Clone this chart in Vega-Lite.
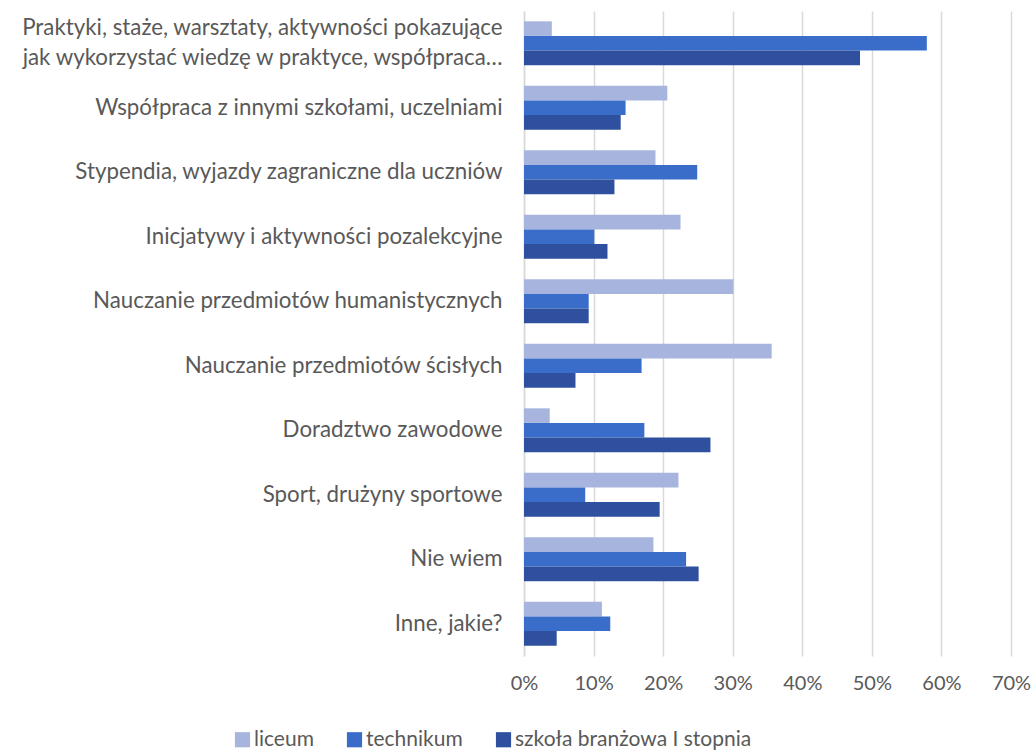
{
  "$schema": "https://vega.github.io/schema/vega-lite/v6.json",
  "width": 487,
  "height": 645,
  "autosize": {"type": "none"},
  "padding": {"left": 524, "top": 11, "right": 24, "bottom": 96},
  "background": "white",
  "config": {
    "view": {"stroke": null},
    "font": "Lato"
  },
  "data": {
    "values": [
      {"cat": "Praktyki, staże, warsztaty, aktywności pokazujące|jak wykorzystać wiedzę w praktyce, współpraca…", "series": "liceum", "value": 0.040},
      {"cat": "Praktyki, staże, warsztaty, aktywności pokazujące|jak wykorzystać wiedzę w praktyce, współpraca…", "series": "technikum", "value": 0.579},
      {"cat": "Praktyki, staże, warsztaty, aktywności pokazujące|jak wykorzystać wiedzę w praktyce, współpraca…", "series": "szkoła branżowa I stopnia", "value": 0.483},
      {"cat": "Współpraca z innymi szkołami, uczelniami", "series": "liceum", "value": 0.206},
      {"cat": "Współpraca z innymi szkołami, uczelniami", "series": "technikum", "value": 0.146},
      {"cat": "Współpraca z innymi szkołami, uczelniami", "series": "szkoła branżowa I stopnia", "value": 0.139},
      {"cat": "Stypendia, wyjazdy zagraniczne dla uczniów", "series": "liceum", "value": 0.189},
      {"cat": "Stypendia, wyjazdy zagraniczne dla uczniów", "series": "technikum", "value": 0.249},
      {"cat": "Stypendia, wyjazdy zagraniczne dla uczniów", "series": "szkoła branżowa I stopnia", "value": 0.130},
      {"cat": "Inicjatywy i aktywności pozalekcyjne", "series": "liceum", "value": 0.225},
      {"cat": "Inicjatywy i aktywności pozalekcyjne", "series": "technikum", "value": 0.101},
      {"cat": "Inicjatywy i aktywności pozalekcyjne", "series": "szkoła branżowa I stopnia", "value": 0.120},
      {"cat": "Nauczanie przedmiotów humanistycznych", "series": "liceum", "value": 0.301},
      {"cat": "Nauczanie przedmiotów humanistycznych", "series": "technikum", "value": 0.093},
      {"cat": "Nauczanie przedmiotów humanistycznych", "series": "szkoła branżowa I stopnia", "value": 0.093},
      {"cat": "Nauczanie przedmiotów ścisłych", "series": "liceum", "value": 0.356},
      {"cat": "Nauczanie przedmiotów ścisłych", "series": "technikum", "value": 0.169},
      {"cat": "Nauczanie przedmiotów ścisłych", "series": "szkoła branżowa I stopnia", "value": 0.074},
      {"cat": "Doradztwo zawodowe", "series": "liceum", "value": 0.037},
      {"cat": "Doradztwo zawodowe", "series": "technikum", "value": 0.173},
      {"cat": "Doradztwo zawodowe", "series": "szkoła branżowa I stopnia", "value": 0.268},
      {"cat": "Sport, drużyny sportowe", "series": "liceum", "value": 0.222},
      {"cat": "Sport, drużyny sportowe", "series": "technikum", "value": 0.088},
      {"cat": "Sport, drużyny sportowe", "series": "szkoła branżowa I stopnia", "value": 0.195},
      {"cat": "Nie wiem", "series": "liceum", "value": 0.186},
      {"cat": "Nie wiem", "series": "technikum", "value": 0.233},
      {"cat": "Nie wiem", "series": "szkoła branżowa I stopnia", "value": 0.251},
      {"cat": "Inne, jakie?", "series": "liceum", "value": 0.112},
      {"cat": "Inne, jakie?", "series": "technikum", "value": 0.124},
      {"cat": "Inne, jakie?", "series": "szkoła branżowa I stopnia", "value": 0.047}
    ]
  },
  "mark": {"type": "bar"},
  "encoding": {
    "y": {
      "field": "cat",
      "type": "nominal",
      "sort": null,
      "scale": {"paddingInner": 0.32, "paddingOuter": 0.16},
      "axis": {
        "title": null,
        "ticks": false,
        "domain": true,
        "domainColor": "#d9d9d9",
        "domainWidth": 1.5,
        "labelExpr": "split(datum.label, '|')",
        "labelFontSize": 22.3,
        "labelColor": "#595959",
        "labelPadding": 22,
        "labelLineHeight": 30,
        "labelLimit": 600,
        "labelOffset": {"condition": {"test": "indexof(datum.value, '|') >= 0", "value": -15}, "value": 0}
      }
    },
    "yOffset": {
      "field": "series",
      "type": "nominal",
      "sort": ["liceum", "technikum", "szkoła branżowa I stopnia"],
      "scale": {"paddingInner": 0}
    },
    "x": {
      "field": "value",
      "type": "quantitative",
      "scale": {"domain": [0, 0.7], "nice": false},
      "axis": {
        "title": null,
        "format": ".0%",
        "values": [0, 0.1, 0.2, 0.3, 0.4, 0.5, 0.6, 0.7],
        "labelOverlap": false,
        "domain": false,
        "ticks": false,
        "grid": true,
        "gridColor": "#d9d9d9",
        "gridWidth": 1.5,
        "labelFontSize": 20,
        "labelColor": "#595959",
        "labelPadding": 17,
        "labelFlush": false
      }
    },
    "color": {
      "field": "series",
      "type": "nominal",
      "sort": ["liceum", "technikum", "szkoła branżowa I stopnia"],
      "scale": {
        "domain": ["liceum", "technikum", "szkoła branżowa I stopnia"],
        "range": ["#a7b5de", "#3a6cc9", "#2e509e"]
      },
      "legend": {
        "title": null,
        "orient": "none",
        "direction": "horizontal",
        "legendX": -292,
        "legendY": 718,
        "symbolType": "square",
        "symbolSize": 230,
        "symbolStrokeWidth": 0,
        "labelFontSize": 21,
        "labelColor": "#595959",
        "labelLimit": 400,
        "columnPadding": 30,
        "labelOffset": 1
      }
    }
  }
}
